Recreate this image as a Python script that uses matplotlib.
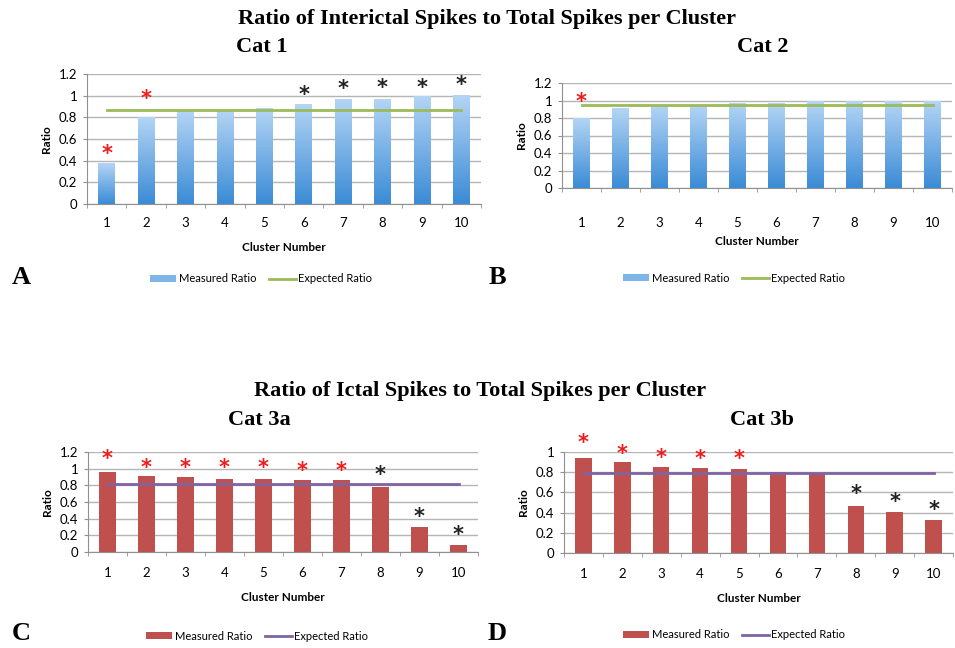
import numpy as np
import matplotlib
matplotlib.use('Agg')
import matplotlib.pyplot as plt
from matplotlib.colors import LinearSegmentedColormap
from matplotlib.patches import Patch
from matplotlib.lines import Line2D

# data
clusters = [1, 2, 3, 4, 5, 6, 7, 8, 9, 10]

cat1_measured = [0.37, 0.80, 0.85, 0.86, 0.88, 0.92, 0.96, 0.96, 0.99, 1.00]
cat1_expected = 0.87
cat1_star_y = [0.46, 0.97, None, None, None, 1.01, 1.06, 1.07, 1.07, 1.10]
cat1_star_c = ['r', 'r', None, None, None, 'k', 'k', 'k', 'k', 'k']

cat2_measured = [0.79, 0.91, 0.94, 0.94, 0.97, 0.97, 0.99, 0.99, 0.99, 0.99]
cat2_expected = 0.95
cat2_star_y = [0.98, None, None, None, None, None, None, None, None, None]
cat2_star_c = ['r', None, None, None, None, None, None, None, None, None]

cat3a_measured = [0.96, 0.91, 0.90, 0.88, 0.88, 0.87, 0.86, 0.78, 0.30, 0.08]
cat3a_expected = 0.82
cat3a_star_y = [1.12, 1.01, 1.01, 1.01, 1.01, 0.97, 0.97, 0.92, 0.42, 0.20]
cat3a_star_c = ['r', 'r', 'r', 'r', 'r', 'r', 'r', 'k', 'k', 'k']

cat3b_measured = [0.94, 0.90, 0.85, 0.84, 0.83, 0.80, 0.79, 0.47, 0.41, 0.33]
cat3b_expected = 0.79
cat3b_star_y = [1.09, 0.98, 0.94, 0.93, 0.93, None, None, 0.58, 0.50, 0.43]
cat3b_star_c = ['r', 'r', 'r', 'r', 'r', None, None, 'k', 'k', 'k']

plt.rcParams['font.family'] = ['Lato', 'DejaVu Sans']

blue_cmap = LinearSegmentedColormap.from_list('bl', ['#3a8bd6', '#b4d5f5'])
red_col = '#c0504d'
green_col = '#9bbb59'
purple_col = '#8064a2'
grid_col = '#b5b5b5'
serif = 'Liberation Serif'

W, H = 955, 648
fig = plt.figure(figsize=(W / 100, H / 100), dpi=100)


def px_rect(left, top, right, bottom):
    return [left / W, 1 - bottom / H, (right - left) / W, (bottom - top) / H]


def panel(rect, measured, expected, star_y, star_c, ymax, gradient, line_col,
          tickpad, labelpad, leg_xy):
    ax = fig.add_axes(rect)
    x = np.array(clusters)
    w = 0.42
    if gradient:
        grad = np.linspace(0, 1, 256).reshape(-1, 1)
        for xi, v in zip(x, measured):
            ax.imshow(grad, cmap=blue_cmap, aspect='auto', origin='lower',
                      extent=(xi - w / 2, xi + w / 2, 0, v), zorder=2)
    else:
        ax.bar(x, measured, width=w, color=red_col, zorder=2)
    ax.plot([x[0], x[-1]], [expected, expected], color=line_col, lw=2, zorder=3)
    for xi, sy, sc in zip(x, star_y, star_c):
        if sy is None:
            continue
        col = '#ee1c1c' if sc == 'r' else '#222222'
        ax.text(xi, sy, '*', color=col, ha='center', va='center',
                fontsize=15, fontweight='bold', family='DejaVu Sans', zorder=4)
    ax.set_xlim(0.5, 10.5)
    ax.set_ylim(0, ymax)
    yt = np.round(np.arange(0, ymax + 0.01, 0.2), 1)
    ax.set_yticks(yt)
    ax.set_yticklabels([f'{t:g}' for t in yt], fontsize=9.5)
    ax.set_xticks(x)
    ax.set_xticklabels([str(c) for c in clusters], fontsize=9.5)
    ax.set_xticks(np.arange(0.5, 11, 1), minor=True)
    ax.tick_params(axis='x', which='major', length=0, pad=tickpad)
    ax.tick_params(axis='x', which='minor', length=3, color='#909090')
    ax.tick_params(axis='y', length=3, color='#909090', pad=4)
    ax.yaxis.grid(True, color=grid_col, lw=1, zorder=0)
    ax.set_axisbelow(True)
    for s in ['top', 'right']:
        ax.spines[s].set_visible(False)
    ax.spines['left'].set_color('#909090')
    ax.spines['bottom'].set_color('#909090')
    ax.set_ylabel('Ratio', fontsize=8.5, fontweight='bold', labelpad=5)
    ax.set_xlabel('Cluster Number', fontsize=8.5, fontweight='bold', labelpad=labelpad)
    if gradient:
        h1 = Patch(facecolor='#7fb6ea', edgecolor='none')
    else:
        h1 = Patch(facecolor=red_col, edgecolor='none')
    h2 = Line2D([0], [0], color=line_col, lw=2)
    fig.legend([h1, h2], ['Measured Ratio', 'Expected Ratio'], ncol=2, frameon=False,
               fontsize=8, loc='center', bbox_to_anchor=(leg_xy[0] / W, 1 - leg_xy[1] / H),
               handlelength=2.4, handleheight=0.6, columnspacing=1.2, handletextpad=0.2)
    return ax


panel(px_rect(87, 74, 481, 204), cat1_measured, cat1_expected,
      cat1_star_y, cat1_star_c, 1.2, True, green_col, 9, 10, (261, 279))
panel(px_rect(562, 83, 952, 188), cat2_measured, cat2_expected,
      cat2_star_y, cat2_star_c, 1.2, True, green_col, 21, 5, (734, 278))
panel(px_rect(88, 452, 478, 552), cat3a_measured, cat3a_expected,
      cat3a_star_y, cat3a_star_c, 1.2, False, purple_col, 11, 9, (257, 636))
panel(px_rect(564, 452, 953, 553), cat3b_measured, cat3b_expected,
      cat3b_star_y, cat3b_star_c, 1.0, False, purple_col, 11, 9, (734, 635))

fig.text(487 / W, 1 - 19 / H, 'Ratio of Interictal Spikes to Total Spikes per Cluster',
         ha='center', va='center', fontsize=16, fontweight='bold', family=serif)
fig.text(262 / W, 1 - 47 / H, 'Cat 1', ha='center', va='center',
         fontsize=16, fontweight='bold', family=serif)
fig.text(763 / W, 1 - 47 / H, 'Cat 2', ha='center', va='center',
         fontsize=16, fontweight='bold', family=serif)
fig.text(480 / W, 1 - 391 / H, 'Ratio of Ictal Spikes to Total Spikes per Cluster',
         ha='center', va='center', fontsize=16, fontweight='bold', family=serif)
fig.text(259 / W, 1 - 420 / H, 'Cat 3a', ha='center', va='center',
         fontsize=16, fontweight='bold', family=serif)
fig.text(762 / W, 1 - 420 / H, 'Cat 3b', ha='center', va='center',
         fontsize=16, fontweight='bold', family=serif)

for lab, px, py in [('A', 21, 277), ('B', 497, 277), ('C', 21, 633), ('D', 497, 633)]:
    fig.text(px / W, 1 - py / H, lab, ha='center', va='center',
             fontsize=19, fontweight='bold', family=serif)

fig.savefig('out.png', dpi=100)
